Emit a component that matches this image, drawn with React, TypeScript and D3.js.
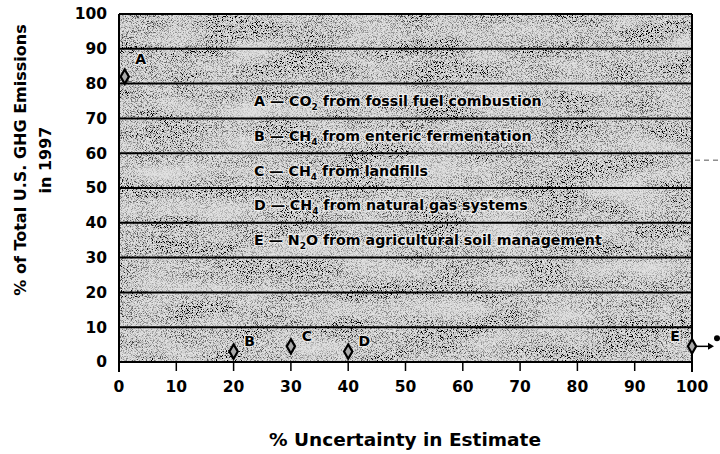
import React from 'react';
import * as d3 from 'd3';

// axis ticks
const xTicks = [0, 10, 20, 30, 40, 50, 60, 70, 80, 90, 100];
const yTicks = [0, 10, 20, 30, 40, 50, 60, 70, 80, 90, 100];

// sources: % uncertainty vs % of total emissions
const sourceIds = ['A', 'B', 'C', 'D', 'E'];
const uncertainty = [1, 20, 30, 40, 100];
const emissionShare = [82, 3, 4.5, 3, 4.5];

// legend text: prefix, gas, subscript, rest
const legendGas = ['CO', 'CH', 'CH', 'CH', 'N'];
const legendSub = ['2', '4', '4', '4', '2'];
const legendRest = [
  ' from fossil fuel combustion',
  ' from enteric fermentation',
  ' from landfills',
  ' from natural gas systems',
  'O from agricultural soil management',
];
const legendRows = [75, 65, 55, 45, 35];

const W = 720;
const H = 454;
const font = '"DejaVu Sans", Verdana, sans-serif';

export default function App() {
  const x = d3.scaleLinear().domain([0, 100]).range([119, 692]);
  const y = d3.scaleLinear().domain([0, 100]).range([362, 14]);
  const diamond = d3.symbol().type(d3.symbolDiamond).size(60)();

  const pts = sourceIds.map((id, i) => ({ id, u: uncertainty[i], s: emissionShare[i] }));

  // white halo keeps labels readable on the speckled fill
  const halo = { paintOrder: 'stroke', stroke: '#fff', strokeWidth: 2.5, strokeOpacity: 0.6 } as React.CSSProperties;

  return (
    <svg width={W} height={H} style={{ position: 'fixed', left: 0, top: 0, background: '#fff' }}>
      <defs>
        <filter id="stipple" x="0" y="0" width="100%" height="100%">
          <feTurbulence type="fractalNoise" baseFrequency="1.2" numOctaves="1" seed="7" result="fine" />
          <feColorMatrix in="fine" type="matrix"
            values="0 0 0 0 0  0 0 0 0 0  0 0 0 0 0  9 0 0 0 -4.7" result="dots" />
          <feTurbulence type="fractalNoise" baseFrequency="1.1" numOctaves="1" seed="21" result="fine2" />
          <feColorMatrix in="fine2" type="matrix"
            values="0 0 0 0 0.5  0 0 0 0 0.5  0 0 0 0 0.5  7 0 0 0 -3.1" result="gdots" />
          <feTurbulence type="fractalNoise" baseFrequency="0.015 0.05" numOctaves="2" seed="3" result="coarse" />
          <feColorMatrix in="coarse" type="matrix"
            values="0 0 0 0 0  0 0 0 0 0  0 0 0 0 0  1.6 0 0 0 0" result="mask" />
          <feComposite in="dots" in2="mask" operator="in" result="d2" />
          <feComposite in="gdots" in2="mask" operator="in" result="g2" />
          <feFlood floodColor="#e2e2e2" result="base" />
          <feComposite in="g2" in2="base" operator="over" result="b2" />
          <feComposite in="d2" in2="b2" operator="over" />
        </filter>
      </defs>

      {/* plot background */}
      <rect x={x(0)} y={y(100)} width={x(100) - x(0)} height={y(0) - y(100)} fill="#fff" />
      <rect x={x(0)} y={y(100)} width={x(100) - x(0)} height={y(0) - y(100)} filter="url(#stipple)" />

      {/* grid lines */}
      {yTicks.map((t) => (
        <line key={t} x1={x(0)} x2={x(100)} y1={y(t)} y2={y(t)} stroke="#000" strokeWidth={2} />
      ))}
      <line x1={x(0)} x2={x(0)} y1={y(100)} y2={y(0) + 10} stroke="#000" strokeWidth={2} />
      <line x1={x(100)} x2={x(100)} y1={y(100)} y2={y(0) + 10} stroke="#000" strokeWidth={2} />

      {/* x ticks */}
      {xTicks.map((t) => (
        <g key={t}>
          <line x1={x(t)} x2={x(t)} y1={y(0)} y2={y(0) + 9} stroke="#000" strokeWidth={1.5} />
          <text x={x(t)} y={y(0) + 30} textAnchor="middle" fontFamily={font} fontWeight="bold" fontSize={15.5}>
            {t}
          </text>
        </g>
      ))}

      {/* y tick labels */}
      {yTicks.map((t) => (
        <text key={t} x={107} y={y(t)} dy="0.35em" textAnchor="end" fontFamily={font} fontWeight="bold" fontSize={15.5}>
          {t}
        </text>
      ))}

      {/* legend */}
      {legendRows.map((r, i) => (
        <text key={i} x={254} y={y(r)} dy="0.35em" fontFamily={font} fontWeight="bold" fontSize={14.2} style={halo}>
          {sourceIds[i]} — {legendGas[i]}
          <tspan fontSize={9} dy={4}>{legendSub[i]}</tspan>
          <tspan dy={-4}>{legendRest[i]}</tspan>
        </text>
      ))}

      {/* points */}
      {pts.map((p) => (
        <path key={p.id} d={diamond} transform={`translate(${x(p.u)},${y(p.s)})`}
          fill="#aaa" stroke="#000" strokeWidth={2.2} />
      ))}
      {pts.map((p) => {
        const isA = p.id === 'A';
        const isE = p.id === 'E';
        const lx = isE ? x(p.u) - 17 : x(p.u) + 16;
        const ly = isA ? y(p.s) - 18 : y(p.s) - 10;
        return (
          <text key={p.id} x={lx} y={ly} dy="0.35em" textAnchor="middle" fontFamily={font} fontWeight="bold" fontSize={14} style={halo}>
            {p.id}
          </text>
        );
      })}

      {/* E off-scale arrow */}
      <line x1={x(100) + 4} x2={x(100) + 20} y1={y(4.5)} y2={y(4.5)} stroke="#000" strokeWidth={1.5} />
      <path d={`M${x(100) + 22},${y(4.5)} l-6,-3.5 l0,7 z`} fill="#000" />
      <circle cx={x(100) + 25} cy={y(4.5) - 8} r={3} fill="#000" />
      <line x1={x(100) + 3} x2={W} y1={y(58)} y2={y(58)} stroke="#555" strokeWidth={1} strokeDasharray="5,4" />

      {/* axis titles */}
      <text x={405} y={446} textAnchor="middle" fontFamily={font} fontWeight="bold" fontSize={18.5}>
        % Uncertainty in Estimate
      </text>
      <text transform="translate(26,160) rotate(-90)" textAnchor="middle" fontFamily={font} fontWeight="bold" fontSize={16}>
        % of Total U.S. GHG Emissions
      </text>
      <text transform="translate(51,160) rotate(-90)" textAnchor="middle" fontFamily={font} fontWeight="bold" fontSize={16}>
        in 1997
      </text>
    </svg>
  );
}
